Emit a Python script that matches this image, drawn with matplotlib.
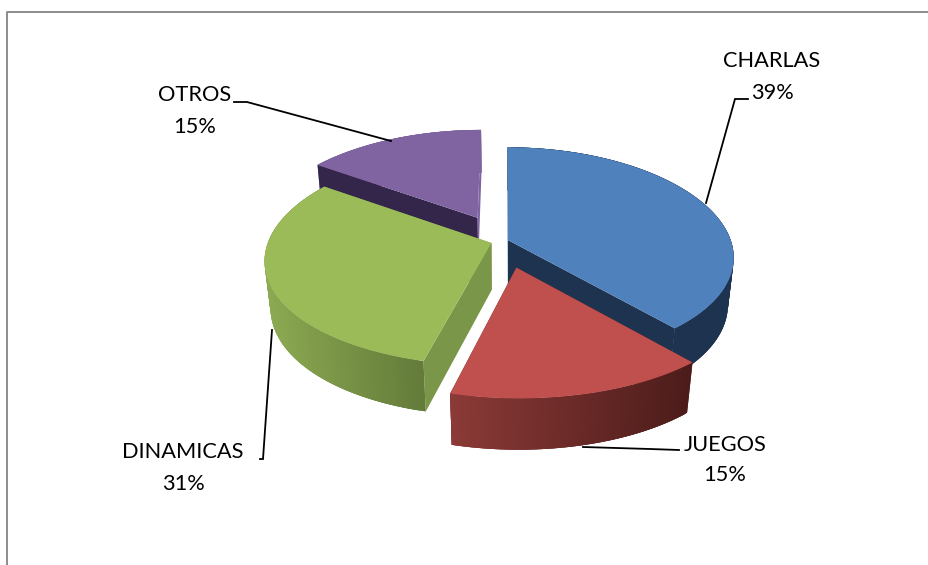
import numpy as np
import matplotlib
matplotlib.use('Agg')
import matplotlib.pyplot as plt
from matplotlib.colors import to_rgb

plt.rcParams['font.family'] = ['Lato', 'DejaVu Sans']

# Data (labels show these rounded)
categories = ['CHARLAS', 'JUEGOS', 'DINAMICAS', 'OTROS']
values = [38.6, 15.4, 30.7, 15.3]

# Styling per slice
explode = [0.024, 0.25, 0.055, 0.255]
top_colors = ['#4F81BD', '#C0504D', '#9BBB59', '#8064A2']
side_colors = ['#1E334F', '#4F1C1B', '#7A9648', '#33264A']
wall_left = ['#1E334F', '#8B3A37', '#8CAA52', '#7A5F9A']
wall_right = ['#1E334F', '#4C1C1A', '#637A39', '#7A5F9A']

# Label placement: text centre x, name y, value y, leader line
label_pos = [(772, 61, 93), (725, 445, 475), (183, 452, 484), (195, 95, 127)]
leaders = [
    [(748, 99), (735, 99), (706, 203)],
    [(679, 450), (650, 449), (583, 447)],
    [(260, 459), (263, 459), (272, 330)],
    [(234, 102), (247, 102), (391, 141)],
]

# Projection of the pie (unit radius, y towards the viewer)
CX, CY = 503.0, 241.0
RADIUS = 223.0
TILT = 0.473
PERSP = 0.134
PERSP_X = 0.16
DEPTH = 48.0
DEPTH_PERSP = 0.025


def project(x, y, bottom=False):
    wy = 1.0 - PERSP * y
    wx = 1.0 - PERSP_X * y
    if bottom:
        sx = CX + RADIUS * x / (wx + DEPTH_PERSP)
        sy = CY + (RADIUS * TILT * y + DEPTH) / (wy + DEPTH_PERSP)
    else:
        sx = CX + RADIUS * x / wx
        sy = CY + RADIUS * TILT * y / wy
    return sx, sy


def mix(c1, c2, f):
    c1, c2 = np.array(to_rgb(c1)), np.array(to_rgb(c2))
    return tuple(c1 + (c2 - c1) * f)


def draw_cut_face(i, a, ox, oy):
    ex, ey = ox + np.sin(a), oy - np.cos(a)
    q = [project(ox, oy), project(ex, ey), project(ex, ey, True), project(ox, oy, True)]
    # the face at 12 o'clock only shows as a thin light edge
    at_top = np.isclose(np.sin(a), 0.0)
    ax.fill(*zip(*q), facecolor=top_colors[i] if at_top else side_colors[i],
            edgecolor='none', zorder=2)


fig = plt.figure(figsize=(9.29, 5.65), dpi=100)
ax = fig.add_axes([0, 0, 1, 1])
ax.set_xlim(0, 929)
ax.set_ylim(565, 0)
ax.axis('off')

# Frame of the chart area, only top and left are visible
ax.plot([7.5, 7.5, 929], [565, 12, 12], color='#8C8C8C', lw=1.4, zorder=1)

# Angles clockwise from 12 o'clock
fractions = np.array(values) / np.sum(values)
edges = np.concatenate([[0], np.cumsum(fractions)]) * 2 * np.pi

for i in [3, 0, 2, 1]:  # back to front
    a0, a1 = edges[i], edges[i + 1]
    mid = (a0 + a1) / 2
    ox, oy = explode[i] * np.sin(mid), -explode[i] * np.cos(mid)
    t = np.linspace(a0, a1, 120)
    px, py = ox + np.sin(t), oy - np.cos(t)

    # cut faces ending in the front half go under the outer wall
    for a in (a0, a1):
        if np.cos(a) < 0:
            draw_cut_face(i, a, ox, oy)

    # curved outer wall, overlapping strips so the shading shows no seams
    tx, ty = project(px, py)
    bx, by = project(px, py, True)
    x_lo, x_hi = min(tx.min(), bx.min()), max(tx.max(), bx.max())
    for j in range(len(t) - 1):
        k = min(j + 3, len(t) - 1)
        f = ((tx[j] + tx[j + 1]) / 2 - x_lo) / (x_hi - x_lo)
        col = mix(wall_left[i], wall_right[i], f)
        ax.fill([tx[j], tx[k], bx[k], bx[j]], [ty[j], ty[k], by[k], by[j]],
                facecolor=col, edgecolor='none', zorder=2)

    # cut faces ending in the back half go over it
    for a in (a0, a1):
        if np.cos(a) >= 0:
            draw_cut_face(i, a, ox, oy)

    # top face
    ax_, ay_ = project(ox, oy)
    ax.fill(np.r_[ax_, tx], np.r_[ay_, ty], facecolor=top_colors[i], edgecolor='none', zorder=2)

for name, val, (lx, y1, y2), line in zip(categories, values, label_pos, leaders):
    ax.plot(*zip(*line), color='black', lw=1.3, zorder=3, solid_joinstyle='miter')
    ax.text(lx, y1, name, ha='center', va='center', fontsize=15.7, color='black', zorder=4)
    ax.text(lx, y2, f'{val:.0f}%', ha='center', va='center', fontsize=15.7, color='black', zorder=4)

fig.savefig('out.png', dpi=100)
